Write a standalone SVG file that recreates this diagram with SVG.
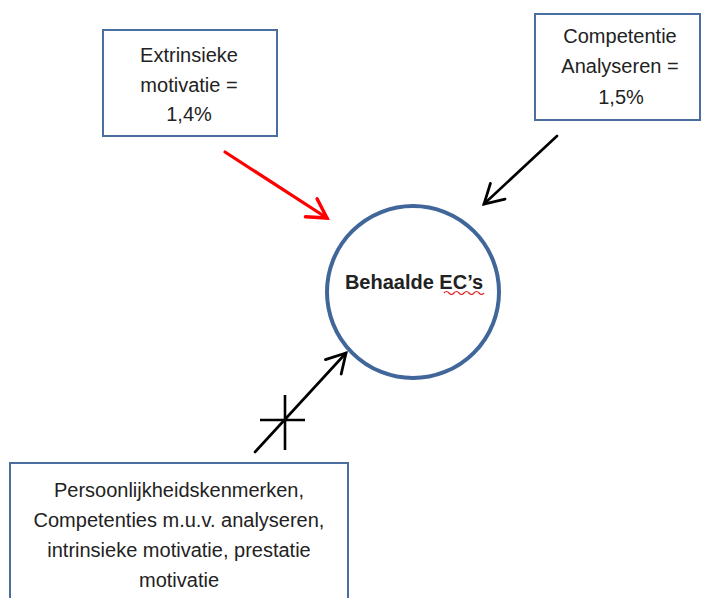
<svg xmlns="http://www.w3.org/2000/svg" width="702" height="598" viewBox="0 0 702 598">
  <defs>
    <style>
      .box { fill: #ffffff; stroke: #4a6e9f; stroke-width: 2; }
      .lbl { font-family: "Liberation Sans", Arial, sans-serif; font-size: 20px; fill: #222222; text-anchor: middle; }
      .bold { font-weight: bold; }
      .conn { fill: none; stroke-linecap: round; }
    </style>
    <marker id="headRed" markerUnits="userSpaceOnUse" markerWidth="30" markerHeight="30" refX="0" refY="0" viewBox="-22 -14 26 28" orient="auto" overflow="visible">
      <path d="M-17.5,-10 L0,0 L-17.5,10" fill="none" stroke="#ff0000" stroke-width="3.2" stroke-linecap="round" stroke-linejoin="miter"/>
    </marker>
    <marker id="headBlack" markerUnits="userSpaceOnUse" markerWidth="30" markerHeight="30" refX="0" refY="0" viewBox="-22 -14 26 28" orient="auto" overflow="visible">
      <path d="M-17.5,-10 L0,0 L-17.5,10" fill="none" stroke="#000000" stroke-width="2.6" stroke-linecap="round" stroke-linejoin="miter"/>
    </marker>
  </defs>

  <rect width="702" height="598" fill="#ffffff"/>

  <!-- influence arrows -->
  <g id="connectors">
    <line class="conn" x1="225" y1="152" x2="327" y2="218" stroke="#ff0000" stroke-width="3.2" marker-end="url(#headRed)"/>
    <line class="conn" x1="557" y1="136" x2="484" y2="204" stroke="#000000" stroke-width="2.6" marker-end="url(#headBlack)"/>
    <line class="conn" x1="255" y1="452" x2="346" y2="353" stroke="#000000" stroke-width="2.6" marker-end="url(#headBlack)"/>
    <!-- cross marking the relation as not significant -->
    <line x1="260" y1="420" x2="305" y2="420" stroke="#000000" stroke-width="2.6"/>
    <line x1="285" y1="395" x2="285" y2="450" stroke="#000000" stroke-width="2.6"/>
  </g>

  <g id="extrinsiek">
    <rect class="box" x="103" y="30" width="174" height="106"/>
    <text class="lbl" x="189" y="62">Extrinsieke</text>
    <text class="lbl" x="189" y="92">motivatie =</text>
    <text class="lbl" x="189" y="121">1,4%</text>
  </g>

  <g id="analyseren">
    <rect class="box" x="535" y="14" width="165" height="106"/>
    <text class="lbl" x="620" y="43">Competentie</text>
    <text class="lbl" x="620" y="73">Analyseren =</text>
    <text class="lbl" x="621" y="104">1,5%</text>
  </g>

  <g id="behaalde-ecs">
    <circle cx="413" cy="292" r="86" fill="#ffffff" stroke="#41679a" stroke-width="4"/>
    <text class="lbl bold" x="414" y="289">Behaalde EC’s</text>
    <path d="M444,293 q2.5,-3 5,0 t5,0 t5,0 t5,0 t5,0 t5,0 t5,0 t5,0" fill="none" stroke="#e02020" stroke-width="1.2"/>
  </g>

  <g id="overige-factoren">
    <rect class="box" x="10" y="463" width="338" height="140"/>
    <text class="lbl" x="179" y="497">Persoonlijkheidskenmerken,</text>
    <text class="lbl" x="179" y="527">Competenties m.u.v. analyseren,</text>
    <text class="lbl" x="179" y="557">intrinsieke motivatie, prestatie</text>
    <text class="lbl" x="179" y="587">motivatie</text>
  </g>
</svg>
